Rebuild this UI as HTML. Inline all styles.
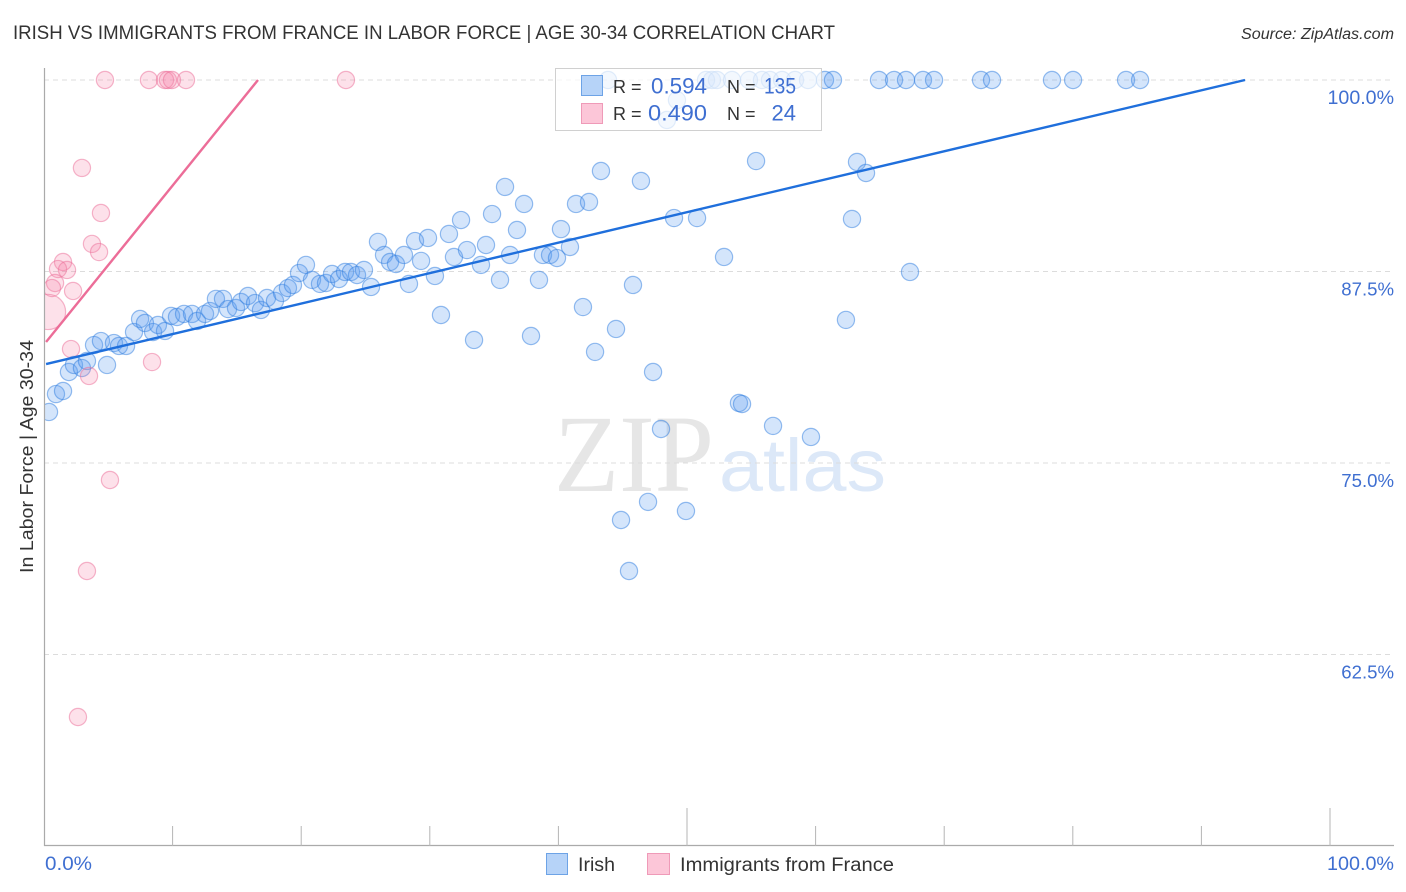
<!DOCTYPE html>
<html lang="en">
<head>
<meta charset="utf-8">
<title>Irish vs Immigrants from France in Labor Force | Age 30-34 Correlation Chart</title>
<style>
html,body{margin:0;padding:0;background:#fff;}
svg{display:block;font-family:"Liberation Sans",sans-serif;}
</style>
</head>
<body>
<svg id="chart" xmlns="http://www.w3.org/2000/svg" width="1406" height="892" viewBox="0 0 1406 892">
  <defs>
    <clipPath id="plot-clip"><rect x="44" y="60" width="1350" height="786"></rect></clipPath>
  </defs>
  <text x="13" y="39" font-size="19" fill="#333" textLength="822" lengthAdjust="spacingAndGlyphs">IRISH VS IMMIGRANTS FROM FRANCE IN LABOR FORCE | AGE 30-34 CORRELATION CHART</text>
  <text x="1241" y="39" font-size="15.5" font-style="italic" fill="#333" textLength="153" lengthAdjust="spacingAndGlyphs">Source: ZipAtlas.com</text>

  <g>
    <text x="554" y="491" font-family="'Liberation Serif',serif" font-size="110" fill="#e6e6e6" textLength="160" lengthAdjust="spacingAndGlyphs">ZIP</text>
    <text x="719" y="491" font-size="74" fill="#dce8f8" textLength="167" lengthAdjust="spacingAndGlyphs">atlas</text>
  </g>

  <g id="grid"></g>
  <g id="points" clip-path="url(#plot-clip)"></g>
  <g id="trends"></g>

  <line x1="44.5" y1="68" x2="44.5" y2="846" stroke="#aaa" stroke-width="1.2"></line>
  <line x1="44" y1="845.5" x2="1394" y2="845.5" stroke="#aaa" stroke-width="1.2"></line>
  <g id="xticks"></g>
  <g id="ylabels"></g>

  <text x="45" y="870" font-size="19" fill="#3f6fd1" textLength="47" lengthAdjust="spacingAndGlyphs">0.0%</text>
  <text x="1327" y="870" font-size="19" fill="#3f6fd1" textLength="67" lengthAdjust="spacingAndGlyphs">100.0%</text>
  <text transform="translate(33,456.5) rotate(-90)" font-size="18.5" fill="#333" text-anchor="middle" textLength="233" lengthAdjust="spacingAndGlyphs">In Labor Force | Age 30-34</text>

  <g>
    <rect x="555.5" y="68.5" width="266" height="62" fill="#fff" fill-opacity="0.72" stroke="#d0d0d0" stroke-width="1"></rect>
    <rect x="581.5" y="75.5" width="21" height="20" fill="#b6d3f8" stroke="#6da3e6" stroke-width="1"></rect>
    <rect x="581.5" y="103.5" width="21" height="20" fill="#fcc6d8" stroke="#ef9ab8" stroke-width="1"></rect>
    <text x="613" y="93" font-size="18" fill="#333">R =</text>
    <text x="651" y="93.5" font-size="22" fill="#3f6fd1" textLength="56" lengthAdjust="spacingAndGlyphs">0.594</text>
    <text x="727" y="93" font-size="18" fill="#333">N =</text>
    <text x="764" y="93.5" font-size="22" fill="#3f6fd1" textLength="32" lengthAdjust="spacingAndGlyphs">135</text>
    <text x="613" y="120" font-size="18" fill="#333">R =</text>
    <text x="648" y="120.5" font-size="22" fill="#3f6fd1" textLength="59" lengthAdjust="spacingAndGlyphs">0.490</text>
    <text x="727" y="120" font-size="18" fill="#333">N =</text>
    <text x="796" y="120.5" font-size="22" fill="#3f6fd1" text-anchor="end">24</text>
  </g>

  <g>
    <rect x="546.5" y="853.5" width="21" height="21" fill="#b6d3f8" stroke="#6da3e6" stroke-width="1"></rect>
    <text x="578" y="871" font-size="19" fill="#333" textLength="37" lengthAdjust="spacingAndGlyphs">Irish</text>
    <rect x="647.5" y="853.5" width="22" height="21" fill="#fcc6d8" stroke="#ef9ab8" stroke-width="1"></rect>
    <text x="680" y="871" font-size="19" fill="#333" textLength="214" lengthAdjust="spacingAndGlyphs">Immigrants from France</text>
  </g>
</svg>

<script>
const irishX = [0.39,0.93,1.48,1.94,2.33,2.95,3.34,4.90,3.89,4.43,5.44,5.83,6.38,7.00,7.47,7.85,8.48,8.86,9.41,9.88,10.34,10.89,11.51,11.90,12.52,12.91,13.37,13.92,14.31,14.93,15.32,15.86,16.41,16.87,17.34,17.96,18.51,18.97,19.36,19.83,20.37,20.84,21.46,21.93,22.40,22.94,23.41,23.87,24.34,24.88,25.43,25.97,26.44,26.91,27.37,27.99,28.38,28.85,29.32,29.86,30.40,30.87,31.49,31.88,32.43,32.89,33.44,33.98,34.37,34.84,35.46,35.85,36.24,36.78,37.33,37.87,38.49,38.80,39.35,39.89,40.20,40.90,41.37,41.91,42.38,42.85,43.31,44.48,44.87,45.49,45.80,46.42,46.97,47.36,47.98,48.44,48.99,49.92,50.78,52.88,54.04,54.28,55.37,56.69,59.64,62.36,62.83,63.22,63.92,67.34,49.22,43.86,51.48,51.94,52.33,53.50,54.82,55.83,56.45,57.39,58.40,59.41,60.73,61.35,64.93,66.10,67.03,68.35,69.21,72.86,73.72,78.38,80.02,84.14,85.23];
const irishY = [78.33,79.50,79.70,80.94,81.40,81.20,81.66,81.40,82.70,82.96,82.83,82.64,82.64,83.55,84.40,84.14,83.55,84.01,83.62,84.60,84.53,84.73,84.73,84.27,84.73,84.92,85.71,85.71,85.05,85.12,85.51,85.90,85.44,84.99,85.77,85.58,86.10,86.42,86.62,87.40,87.93,86.95,86.69,86.75,87.34,87.01,87.47,87.47,87.27,87.60,86.49,89.43,88.58,88.12,87.99,88.58,86.69,89.49,88.19,89.69,87.21,84.66,89.95,88.45,90.86,88.90,83.03,87.93,89.23,91.25,86.95,93.02,88.58,90.21,91.91,83.29,86.95,88.58,88.58,88.38,90.27,89.10,91.91,85.18,92.04,82.25,94.06,83.75,71.28,67.95,86.62,93.41,72.46,80.94,77.22,97.39,90.99,71.87,90.99,88.45,78.92,78.85,94.71,77.42,76.70,84.34,90.93,94.65,93.93,87.47,98.69,100,100,100,100,100,100,100,100,100,100,100,100,100,100,100,100,100,100,100,100,100,100,100,100];
const franceX = [4.74,8.16,9.41,9.64,9.95,11.04,23.48,2.95,4.43,3.73,4.28,1.48,1.09,1.79,0.86,0.62,2.26,0.31,2.10,8.40,3.50,5.13,3.34,2.64];
const franceY = [100,100,100,100,100,100,100,94.26,91.32,89.30,88.77,88.12,87.66,87.60,86.75,86.42,86.23,84.86,82.44,81.59,80.68,73.89,67.95,58.42];
const franceWeights = [1,1,1,1,1,1,1,1,1,1,1,1,1,1,1,1,1,4.2,1,1,1,1,1,1];
const irishTrendX = [0.16,93.39];
const irishTrendY = [81.46,100];
const franceTrendX = [0.16,16.64];
const franceTrendY = [82.9,100];
const yTicks = [100,87.5,75,62.5];
const yTickLabels = ["100.0%","87.5%","75.0%","62.5%"];
const xTicks = [10,20,30,40,50,60,70,80,90,100];
const xMajorTicks = [50,100];

const NS = "http://www.w3.org/2000/svg";
function xScale(v){ return 44 + v * 12.86; }
function yScale(v){ return 80 + (100 - v) * 15.32; }
function make(tag, attrs, parent){
  const el = document.createElementNS(NS, tag);
  for (const k in attrs) el.setAttribute(k, attrs[k]);
  parent.appendChild(el);
  return el;
}

const grid = document.getElementById("grid");
const ylabels = document.getElementById("ylabels");
yTicks.forEach(function(t, i){
  const ln = make("line", {x1:44, x2:1394, y1:yScale(t), y2:yScale(t), stroke:"#dcdcdc", "stroke-width":1, "stroke-dasharray":"5 4"}, grid);
  
  
  const size = yTickLabels[i].length > 5 ? 19.6 : 18.6;
  const tx = make("text", {x:1394, y:yScale(t)+24, "font-size":size, fill:"#3f6fd1", "text-anchor":"end"}, ylabels);
  tx.textContent = yTickLabels[i];
  
  
});

const xticks = document.getElementById("xticks");
xTicks.forEach(function(t){
  const top = xMajorTicks.indexOf(t) >= 0 ? 808 : 826;
  const ln = make("line", {x1:xScale(t), x2:xScale(t), y1:top, y2:846, stroke:"#b5b5b5", "stroke-width":1}, xticks);
  
  
});

const points = document.getElementById("points");
irishX.forEach(function(v, i){
  const c = make("circle", {cx:xScale(v), cy:yScale(irishY[i]), r:8.6, fill:"#5a9cf0", "fill-opacity":0.26, stroke:"#2f7de0", "stroke-opacity":0.5, "stroke-width":1.2}, points);
  
  
});
franceX.forEach(function(v, i){
  const c = make("circle", {cx:xScale(v), cy:yScale(franceY[i]), r:8.6*Math.sqrt(franceWeights[i]), fill:"#f583a8", "fill-opacity":0.24, stroke:"#ec6d98", "stroke-opacity":0.5, "stroke-width":1.2}, points);
  
  
});

const trends = document.getElementById("trends");
const irishLine = make("line", {x1:xScale(irishTrendX[0]), y1:yScale(irishTrendY[0]), x2:xScale(irishTrendX[1]), y2:yScale(irishTrendY[1]), stroke:"#1f6fdc", "stroke-width":2.4}, trends);


const franceLine = make("line", {x1:xScale(franceTrendX[0]), y1:yScale(franceTrendY[0]), x2:xScale(franceTrendX[1]), y2:yScale(franceTrendY[1]), stroke:"#ec6d98", "stroke-width":2.4}, trends);


</script>
</body>
</html>
